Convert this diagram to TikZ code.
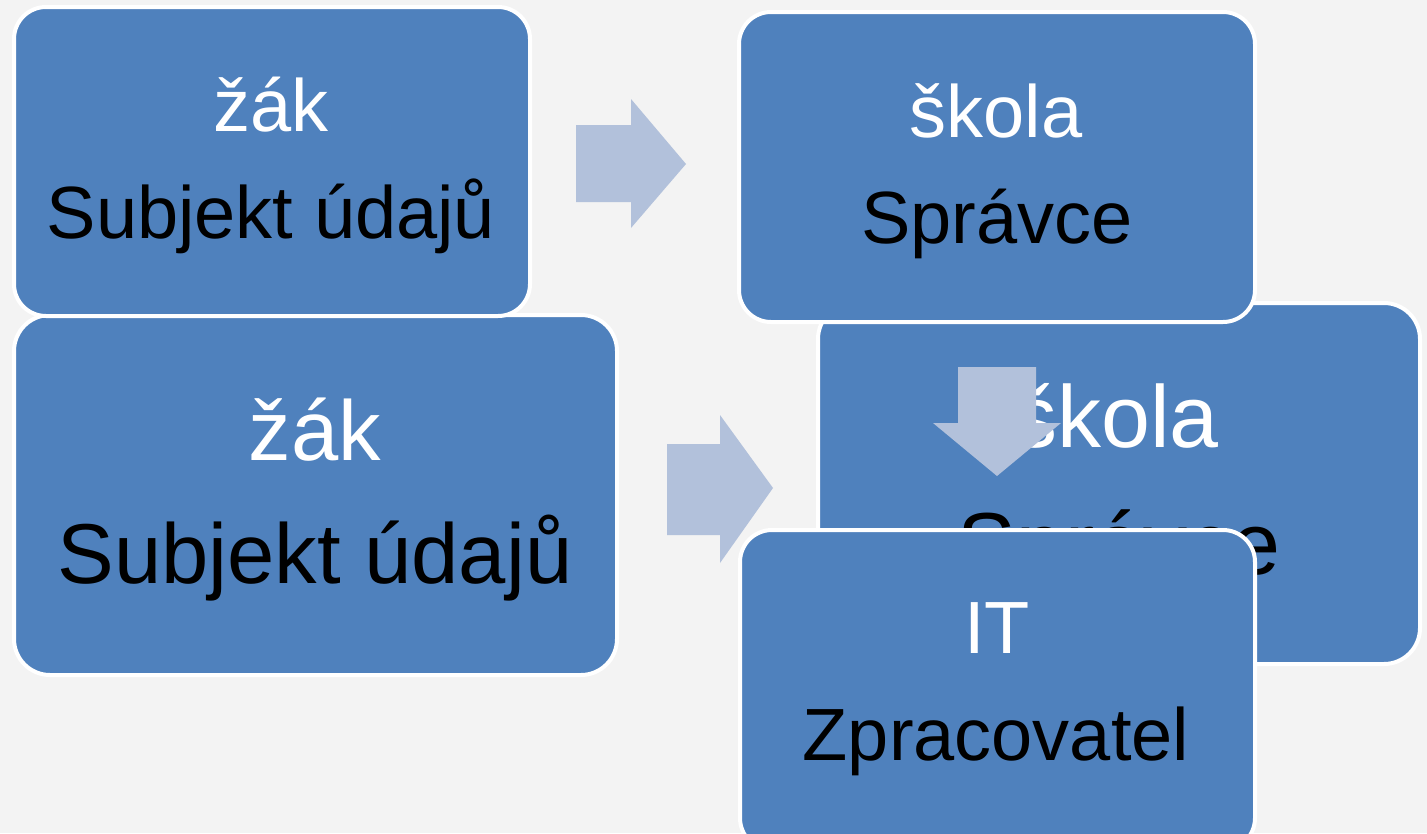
\documentclass[tikz,border=0pt]{standalone}
\usepackage{fontspec}
\setmainfont{Liberation Sans}
\definecolor{bg}{HTML}{F3F3F3}
\definecolor{boxblue}{HTML}{4F81BD}
\definecolor{arrowblue}{HTML}{B2C1DB}
\tikzset{
  box/.style={draw=white, line width=4pt, fill=boxblue, rounded corners=32pt, inner sep=0pt, outer sep=0pt, rectangle},
  blockarrow/.style={fill=arrowblue, draw=none},
  labw/.style={text=white, inner sep=0pt, anchor=base},
  labk/.style={text=black, inner sep=0pt, anchor=base},
  fs/.style={font=\fontsize{74}{74}\selectfont},
  fm/.style={font=\fontsize{85}{85}\selectfont},
  fl/.style={font=\fontsize{88}{88}\selectfont}
}
\begin{document}
\begin{tikzpicture}[x=1pt,y=-1pt]
\useasboundingbox (0,0) rectangle (1427,833);
\clip (0,0) rectangle (1427,833);
\fill[bg] (0,0) rectangle (1427,833);
% lower group
\node[box, rounded corners=36pt, minimum width=603pt, minimum height=360pt] (C) at (315.5,495) {};
\node[fm, labw] (Cw) at (315,460) {žák};
\node[fm, labk] (Ck) at (315,583) {Subjekt údajů};
\fill[blockarrow] (667,444) -- (720,444) -- (720,415) -- (773,488) -- (720,563) -- (720,535) -- (667,535) -- cycle;
\node[box, rounded corners=36pt, minimum width=602pt, minimum height=361pt] (D) at (1119,483.5) {};
\node[fl, labw] (Dw) at (1116,447) {škola};
\node[fl, labk] (Dk) at (1119,574) {Správce};
\fill[blockarrow] (958,367) -- (1036,367) -- (1036,423) -- (1061,423) -- (997,476) -- (933,423) -- (958,423) -- cycle;
\node[box, minimum width=515pt, minimum height=320pt] (E) at (997.5,690) {};
\node[fs, labw] (Ew) at (997,653) {IT};
\node[fs, labk] (Ek) at (996,760) {Zpracovatel};
% upper group
\node[box, minimum width=516pt, minimum height=309pt] (A) at (272,161.5) {};
\node[fs, labw] (Aw) at (271,131) {žák};
\node[fs, labk] (Ak) at (271,238) {Subjekt údajů};
\fill[blockarrow] (576,125) -- (631,125) -- (631,99) -- (686,164) -- (631,228) -- (631,202) -- (576,202) -- cycle;
\node[box, minimum width=516pt, minimum height=310pt] (B) at (997,167) {};
\node[fs, labw] (Bw) at (996,137) {škola};
\node[fs, labk] (Bk) at (997,243) {Správce};
\end{tikzpicture}
\end{document}
